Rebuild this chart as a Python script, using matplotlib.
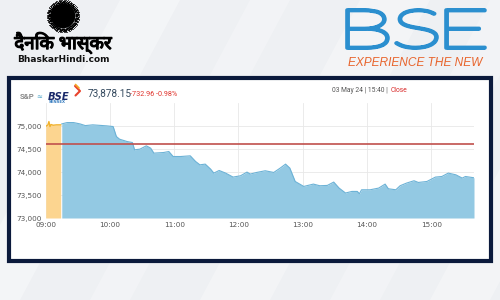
import numpy as np
import matplotlib.pyplot as plt
import matplotlib.patheffects as pe
from matplotlib.patches import Rectangle, Circle, Polygon, PathPatch
from matplotlib.textpath import TextPath
from matplotlib.font_manager import FontProperties
from matplotlib.transforms import Affine2D

## Chart data
pre_open_times = ['09:00', '09:02', '09:03', '09:04', '09:05', '09:07', '09:10', '09:14']
pre_open_values = [75000, 75030, 75105, 74996, 75040, 75025, 75033, 75033]

session_times = ['09:15', '09:20', '09:26', '09:32', '09:37', '09:44', '09:57', '10:03',
                 '10:06', '10:09', '10:16', '10:21', '10:23', '10:28', '10:34', '10:38',
                 '10:41', '10:50', '10:55', '10:59', '11:06', '11:15', '11:20', '11:24',
                 '11:29', '11:34', '11:37', '11:42', '11:48', '11:55', '12:02', '12:08',
                 '12:11', '12:17', '12:25', '12:33', '12:39', '12:44', '12:48', '12:53',
                 '13:01', '13:10', '13:16', '13:23', '13:29', '13:34', '13:40', '13:46',
                 '13:51', '13:53', '13:55', '14:03', '14:11', '14:17', '14:20', '14:27',
                 '14:31', '14:37', '14:44', '14:48', '14:56', '15:04', '15:10', '15:16',
                 '15:23', '15:29', '15:32', '15:40']
session_values = [75054, 75083, 75083, 75054, 75017, 75033, 75011, 74996,
                  74778, 74720, 74669, 74647, 74488, 74503, 74575, 74525,
                  74416, 74429, 74451, 74342, 74342, 74357, 74233, 74161,
                  74176, 74067, 73980, 74037, 73980, 73893, 73922, 74002,
                  73959, 73994, 74031, 73994, 74089, 74176, 74089, 73797,
                  73689, 73740, 73704, 73711, 73784, 73653, 73545, 73580,
                  73580, 73529, 73616, 73616, 73653, 73740, 73638, 73616,
                  73704, 73762, 73813, 73776, 73797, 73893, 73906, 73980,
                  73943, 73871, 73906, 73878]

prev_close = 74611.11
last_value = '73,878.15'
change_text = '-732.96 -0.98%'
stamp_text = '03 May 24 | 15:40 | '
x_tick_labels = ['09:00', '10:00', '11:00', '12:00', '13:00', '14:00', '15:00']
y_tick_values = [73000, 73500, 74000, 74500, 75000]
session_end = '15:40'


def to_minutes(hhmm):
    '''minutes after 09:00'''
    h, m = hhmm.split(':')
    return (int(h) - 9) * 60 + int(m)


def px_axes(fig, x0, y0, x1, y1):
    '''add axes from pixel box (top-left origin) on a 500x300 canvas'''
    return fig.add_axes([x0 / 500, 1 - y1 / 300, (x1 - x0) / 500, (y1 - y0) / 300])


def naked(ax):
    for side in ['top', 'bottom', 'right', 'left']:
        ax.spines[side].set_visible(False)
    ax.set_xticks([])
    ax.set_yticks([])


def boxed_letter(ax, letter, x0, y0, x1, y1, color):
    '''draw a thin glyph stretched to a pixel box, thickened with a round stroke'''
    tp = TextPath((0, 0), letter, size=1, prop=FontProperties(family='Lato', weight='light'))
    ext = tp.get_extents()
    sx = (x1 - x0) / ext.width
    sy = (y1 - y0) / ext.height
    tr = Affine2D().translate(-ext.x0, -ext.y1).scale(sx, -sy).translate(x0, y0)
    ax.add_patch(PathPatch(tr.transform_path(tp), facecolor=color, edgecolor=color,
                           lw=2.6, joinstyle='round', capstyle='round', zorder=3))


fig = plt.figure(figsize=(5, 3), dpi=100)

## Background canvas in pixel coordinates
bg = fig.add_axes([0, 0, 1, 1])
bg.set_xlim(0, 500)
bg.set_ylim(300, 0)
naked(bg)
bg.set_facecolor('#eef0f3')
## a few soft diagonal streaks
for x_start, w, a in [(-40, 60, 0.35), (90, 40, 0.25), (200, 70, 0.3), (330, 50, 0.25), (430, 60, 0.3)]:
    bg.add_patch(Polygon([(x_start, 300), (x_start + w, 300), (x_start + w + 160, 0), (x_start + 160, 0)],
                         closed=True, facecolor='white', edgecolor='none', alpha=a, zorder=0))

## Dainik Bhaskar logo: black sun with halftone edge
sun_x, sun_y = 63, 16
bg.add_patch(Circle((sun_x, sun_y), 12.3, facecolor='black', edgecolor='none', zorder=3))
for r, s in [(12.8, 2.2), (14.0, 1.4), (15.2, 0.7), (16.2, 0.3)]:
    n = int(2 * np.pi * r / 1.3)
    ang = np.linspace(0, 2 * np.pi, n, endpoint=False) + r
    bg.scatter(sun_x + r * np.cos(ang), sun_y + r * np.sin(ang), s=s, color='black',
               linewidths=0, zorder=3)
bg.text(63, 43, 'दैनिक भास्कर', fontsize=13.5, fontweight='bold', color='black',
        ha='center', va='center', family=['Noto Sans', 'DejaVu Sans'], zorder=3,
        path_effects=[pe.withStroke(linewidth=0.9, foreground='black')])
bg.text(63, 60, 'BhaskarHindi.com', fontsize=6.5, fontweight='bold', color='#111111',
        ha='center', va='center', zorder=3)

## BSE logo
for letter, lx0, lx1 in [('B', 347, 388), ('S', 396, 437), ('E', 446, 485)]:
    boxed_letter(bg, letter, lx0, 10, lx1, 48, '#2b8fcf')
bg.text(415, 63, 'EXPERIENCE THE NEW', fontsize=8.6, color='#e8642c', style='italic',
        ha='center', va='center', family='Liberation Sans', zorder=3)

## Frame around the chart
bg.add_patch(Rectangle((9, 78), 482, 183, facecolor='white', edgecolor='#0b1a3c', lw=3, zorder=2))

## Header of the chart
bg.text(20, 96.5, 'S&P', fontsize=5.6, color='#8a8a8a', fontweight='bold', ha='left', va='center',
        family='Roboto', zorder=3)
bg.text(36.5, 96.5, '\u2248', fontsize=5, color='#4aa3c8', ha='left', va='center', zorder=3)
bg.text(47.5, 96.5, 'BSE', fontsize=7.2, color='#1b2a6b', fontweight='bold', style='italic',
        ha='left', va='center', zorder=3)
bg.text(48.5, 102, 'SENSEX', fontsize=2.8, color='#3a7fc0', fontweight='bold', ha='left', va='center', zorder=3)
bg.plot([75, 80, 75.5], [86, 91, 95.5], color='#e8432c', lw=1.5, zorder=3, solid_capstyle='round')
bg.plot([75.5, 79], [84.5, 88], color='#f5a623', lw=1.2, zorder=3, solid_capstyle='round')
bg.text(88, 93, last_value, fontsize=7.2, color='#34495e', ha='left', va='center',
        family='Roboto', zorder=3)
bg.text(129.5, 94, change_text, fontsize=5.2, color='#e0332c', ha='left', va='center',
        family='Roboto', zorder=3)
bg.text(390, 91, stamp_text, fontsize=4.9, color='#555555', ha='right', va='center',
        family='Roboto', zorder=3)
bg.text(390.5, 91, 'Close', fontsize=4.9, color='#d92b2b', ha='left', va='center',
        family='Roboto', zorder=3)

## Chart axes
ax = px_axes(fig, 45.7, 103, 474, 218)
ax.set_facecolor('none')
pre_x = [to_minutes(t) for t in pre_open_times]
ses_x = [to_minutes(t) for t in session_times]
y_base = y_tick_values[0]

ax.fill_between(pre_x, pre_open_values, y_base, color='#fcd590', lw=0, zorder=2)
ax.plot(pre_x, pre_open_values, color='#f1b12b', lw=1, zorder=3)
ax.fill_between(ses_x, session_values, y_base, color='#93c9e3', lw=0, zorder=2)
ax.plot(ses_x, session_values, color='#6cb2d6', lw=0.8, zorder=3)
ax.axhline(prev_close, color='#c0504d', lw=1.2, zorder=4)

hour_ticks = [to_minutes(t) for t in x_tick_labels]
ax.set_xticks(hour_ticks)
ax.set_xticklabels(x_tick_labels)
ax.set_yticks(y_tick_values)
ax.set_yticklabels([f'{v:,}' for v in y_tick_values])
ax.set_xlim(0, to_minutes(session_end))
ax.set_ylim(y_base, 75510)
ax.grid(True, color='#e8e8e8', lw=0.6, zorder=0)
ax.set_axisbelow(True)
for side in ['top', 'bottom', 'right', 'left']:
    ax.spines[side].set_visible(False)
ax.tick_params(length=0, labelsize=5.2, labelcolor='#555555', pad=3)

fig.savefig('out.png', dpi=100)
